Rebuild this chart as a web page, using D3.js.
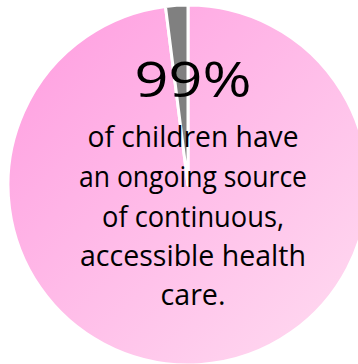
<!DOCTYPE html>
<html>
<head>
<meta charset="utf-8">
<script src="https://cdn.jsdelivr.net/npm/d3@7"></script>
<style>
  html, body { margin: 0; padding: 0; background: #ffffff; }
  svg { display: block; }
</style>
</head>
<body>
<div id="chart"></div>
<script>
// Data
const categories = ["Has ongoing source of care", "No ongoing source"];
const values = [98, 2];
const headline = "99%";
const captionLines = ["of children have", "an ongoing source", "of continuous,", "accessible health", "care."];

const W = 358, H = 364;
const cx = 188, cy = 185, R = 180;

const svg = d3.select("#chart").append("svg")
  .attr("width", W).attr("height", H);

const defs = svg.append("defs");
const grad = defs.append("linearGradient")
  .attr("id", "pinkGrad")
  .attr("gradientUnits", "userSpaceOnUse")
  .attr("x1", -R * 0.75).attr("y1", -R * 0.75)
  .attr("x2", R * 0.75).attr("y2", R * 0.75);
grad.append("stop").attr("offset", "0%").attr("stop-color", "#ffa4e2");
grad.append("stop").attr("offset", "100%").attr("stop-color", "#ffd5ef");

const color = d3.scaleOrdinal()
  .domain(categories)
  .range(["url(#pinkGrad)", "#808080"]);

const pie = d3.pie().sort(null).value(d => d.value);
const arcs = pie(categories.map((c, i) => ({ category: c, value: values[i] })));
const arc = d3.arc().innerRadius(0).outerRadius(R);

const g = svg.append("g").attr("transform", `translate(${cx},${cy})`);
g.selectAll("path")
  .data(arcs)
  .join("path")
  .attr("d", arc)
  .attr("fill", d => color(d.data.category))
  .attr("stroke", "#ffffff")
  .attr("stroke-width", 3)
  .attr("stroke-linejoin", "round");

const fontFam = "'Open Sans', 'Noto Sans', sans-serif";
const textX = 193;

svg.append("text")
  .attr("x", textX).attr("y", 97)
  .attr("text-anchor", "middle")
  .attr("font-family", fontFam)
  .attr("font-size", 50)
  .attr("fill", "#000")
  .attr("textLength", 117)
  .attr("lengthAdjust", "spacingAndGlyphs")
  .text(headline);

const lineBaselines = [147, 187, 227, 266, 305];
const lineWidths = [211, 228, 182, 226, 65];

svg.selectAll("text.cap")
  .data(captionLines)
  .join("text")
  .attr("class", "cap")
  .attr("x", textX)
  .attr("y", (d, i) => lineBaselines[i])
  .attr("text-anchor", "middle")
  .attr("font-family", fontFam)
  .attr("font-size", 30)
  .attr("fill", "#000")
  .attr("textLength", (d, i) => lineWidths[i])
  .attr("lengthAdjust", "spacingAndGlyphs")
  .text(d => d);
</script>
</body>
</html>
